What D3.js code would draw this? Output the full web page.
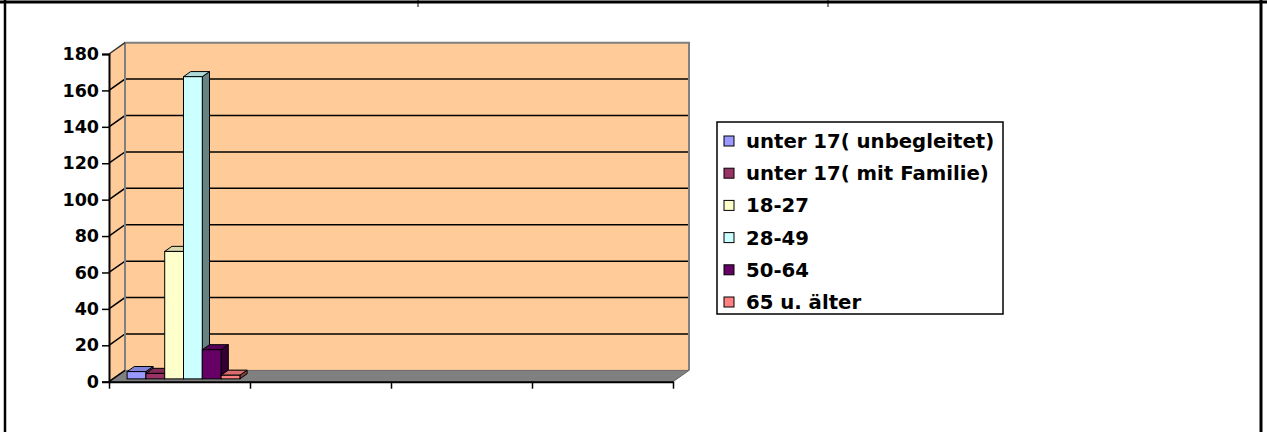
<!DOCTYPE html>
<html>
<head>
<meta charset="utf-8">
<script src="https://cdn.jsdelivr.net/npm/d3@7"></script>
<style>
  body { margin: 0; background: #fff; }
  svg { display: block; }
  text { font-family: "DejaVu Sans", Verdana, sans-serif; font-weight: bold; fill: #000; }
</style>
</head>
<body>
<div id="chart"></div>
<script>
// categories on the x axis have no labels in the source
var categories = ["1", "2", "3", "4"];
var seriesNames = ["unter 17( unbegleitet)", "unter 17( mit Familie)", "18-27", "28-49", "50-64", "65 u. älter"];
var seriesColors = ["#9999FF", "#993366", "#FFFFCC", "#CCFFFF", "#660066", "#FF8080"];
// one value per category, null = no bar
var unbegleitet = [4, null, null, null];
var mitFamilie = [3, null, null, null];
var age18to27 = [70, null, null, null];
var age28to49 = [166, null, null, null];
var age50to64 = [16, null, null, null];
var age65plus = [2, null, null, null];
var yTicks = [0, 20, 40, 60, 80, 100, 120, 140, 160, 180];

var seriesValues = [unbegleitet, mitFamilie, age18to27, age28to49, age50to64, age65plus];

var W = 1267, H = 432;
var svg = d3.select("#chart").append("svg")
    .attr("width", W)
    .attr("height", H);

// outer table frame
var frame = svg.append("g");
frame.append("line").attr("x1", 0).attr("x2", W).attr("y1", 2).attr("y2", 2)
    .attr("stroke", "#000").attr("stroke-width", 3);
frame.append("line").attr("x1", 5).attr("x2", 5).attr("y1", 0).attr("y2", H)
    .attr("stroke", "#000").attr("stroke-width", 2.5);
frame.append("line").attr("x1", 1261).attr("x2", 1261).attr("y1", 0).attr("y2", H)
    .attr("stroke", "#000").attr("stroke-width", 3);
[418, 828].forEach(function(x){
    frame.append("line").attr("x1", x).attr("x2", x).attr("y1", 0).attr("y2", 7)
        .attr("stroke", "#000").attr("stroke-width", 1);
});

// 3d plot geometry
var DX = 16, DY = -11.3;
var x0 = 109, x1 = 673;
var y = d3.scaleLinear().domain([0, 180]).range([381.7, 54]);
var x = d3.scaleBand().domain(categories).range([x0, x1]);
var xs = d3.scaleBand().domain(seriesNames).range([0, x.bandwidth()])
    .paddingInner(0).paddingOuter(0.75);

function pt(px, py, f){ return [px + f*DX, py + f*DY]; }
function poly(pts){ return pts.map(function(p){ return p.join(","); }).join(" "); }

var plot = svg.append("g");
var peach = "#FFCC99";

// left side wall
plot.append("polygon")
    .attr("points", poly([pt(x0, y(0), 0), pt(x0, y(180), 0), pt(x0, y(180), 1), pt(x0, y(0), 1)]))
    .attr("fill", peach);
// back wall
plot.append("polygon")
    .attr("points", poly([pt(x0, y(0), 1), pt(x0, y(180), 1), pt(x1, y(180), 1), pt(x1, y(0), 1)]))
    .attr("fill", peach);

// gridlines on back wall + connectors on side wall
yTicks.filter(function(d){ return d > 0 && d < 180; }).forEach(function(d){
    var a = pt(x0, y(d), 0), b = pt(x0, y(d), 1), c = pt(x1, y(d), 1);
    plot.append("polyline").attr("points", poly([a, b, c]))
        .attr("fill", "none").attr("stroke", "#000").attr("stroke-width", 1.5);
});

// wall borders
plot.append("polyline")
    .attr("points", poly([pt(x0, y(0), 1), pt(x0, y(180), 1), pt(x1, y(180), 1), pt(x1, y(0), 1)]))
    .attr("fill", "none").attr("stroke", "#808080").attr("stroke-width", 2);
plot.append("line")
    .attr("x1", pt(x0, y(180), 0)[0]).attr("y1", pt(x0, y(180), 0)[1])
    .attr("x2", pt(x0, y(180), 1)[0]).attr("y2", pt(x0, y(180), 1)[1])
    .attr("stroke", "#333").attr("stroke-width", 1.5);

// floor
plot.append("polygon")
    .attr("points", poly([pt(x0, y(0), 0), pt(x0, y(0), 1), pt(x1, y(0), 1), pt(x1, y(0), 0)]))
    .attr("fill", "#808080").attr("stroke", "#666").attr("stroke-width", 1);
plot.append("line")
    .attr("x1", pt(x0, y(0), 0)[0]).attr("y1", pt(x0, y(0), 0)[1])
    .attr("x2", pt(x0, y(0), 1)[0]).attr("y2", pt(x0, y(0), 1)[1])
    .attr("stroke", "#000").attr("stroke-width", 1.5);

// bars
var F0 = 0.25, FD = 0.45;
var barData = [];
categories.forEach(function(c, ci){
    seriesNames.forEach(function(s, si){
        var v = seriesValues[si][ci];
        if (v == null) return;
        barData.push({cat: c, name: s, value: v, color: seriesColors[si]});
    });
});

var bars = plot.selectAll(".bar").data(barData).enter()
    .append("g").attr("class", "bar");

bars.each(function(d){
    var g = d3.select(this);
    var l = x(d.cat) + xs(d.name), r = l + xs.bandwidth();
    var top = y(d.value), bot = y(0);
    var f1 = F0 + FD;
    var col = d3.color(d.color);
    // right side
    g.append("polygon")
        .attr("points", poly([pt(r, bot, F0), pt(r, top, F0), pt(r, top, f1), pt(r, bot, f1)]))
        .attr("fill", col.darker(1.9)).attr("stroke", "#000").attr("stroke-width", 1);
    // top
    g.append("polygon")
        .attr("points", poly([pt(l, top, F0), pt(l, top, f1), pt(r, top, f1), pt(r, top, F0)]))
        .attr("fill", col.darker(0.45)).attr("stroke", "#000").attr("stroke-width", 1);
    // front
    var p = pt(l, top, F0), q = pt(r, bot, F0);
    g.append("rect")
        .attr("x", p[0]).attr("y", p[1])
        .attr("width", q[0] - p[0]).attr("height", q[1] - p[1])
        .attr("fill", d.color).attr("stroke", "#000").attr("stroke-width", 1);
});

// y axis
var yAxis = svg.append("g")
    .attr("transform", "translate(" + x0 + ",0)")
    .call(d3.axisLeft(y).tickValues(yTicks).tickSize(7).tickPadding(3));
yAxis.select(".domain").attr("stroke", "#000").attr("stroke-width", 2);
yAxis.selectAll(".tick line").attr("stroke", "#000").attr("stroke-width", 1.5);
yAxis.selectAll("text")
    .style("font-family", "'DejaVu Sans', Verdana, sans-serif")
    .style("font-weight", "bold")
    .style("font-size", "17.5px")
    .attr("fill", "#000");

// x axis (category boundaries, no labels)
var xEdge = d3.scaleLinear().domain([0, categories.length]).range([x0, x1]);
var xAxis = svg.append("g")
    .attr("transform", "translate(0," + y(0) + ")")
    .call(d3.axisBottom(xEdge).tickValues(d3.range(categories.length + 1))
        .tickSize(7).tickSizeOuter(0).tickFormat(""));
xAxis.select(".domain").attr("stroke", "#000").attr("stroke-width", 2);
xAxis.selectAll(".tick line").attr("stroke", "#000").attr("stroke-width", 1.5);

// legend
var lg = svg.append("g").attr("transform", "translate(717,122)");
lg.append("rect").attr("width", 286).attr("height", 192)
    .attr("fill", "#fff").attr("stroke", "#000").attr("stroke-width", 1.5);
var items = lg.selectAll(".item").data(seriesNames).enter()
    .append("g").attr("class", "item")
    .attr("transform", function(d, i){ return "translate(0," + (19 + i*32.2) + ")"; });
items.append("rect")
    .attr("x", 7).attr("y", -5).attr("width", 10).attr("height", 10)
    .attr("fill", function(d, i){ return seriesColors[i]; })
    .attr("stroke", "#000").attr("stroke-width", 1);
items.append("text")
    .attr("x", 29).attr("y", 0).attr("dy", "0.36em")
    .style("font-size", "19.7px")
    .text(function(d){ return d; });
</script>
</body>
</html>
